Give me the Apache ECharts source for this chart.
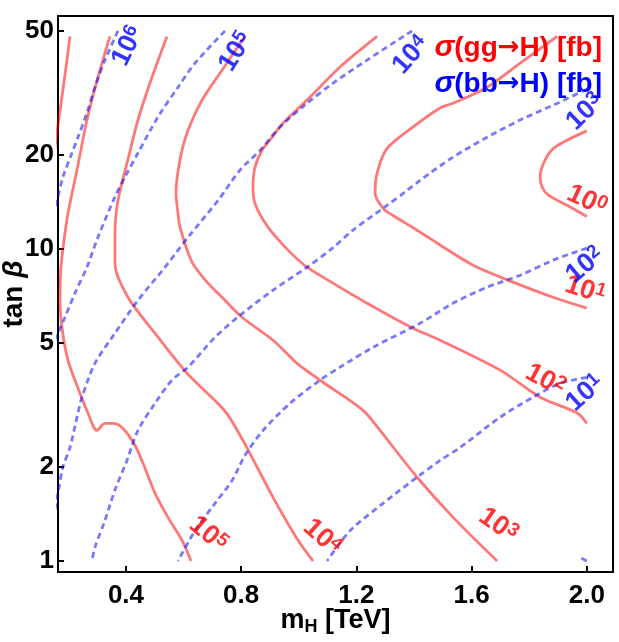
<!DOCTYPE html>
<html><head><meta charset="utf-8">
<script src="https://cdn.jsdelivr.net/npm/echarts@6/dist/echarts.min.js"></script>
<style>html,body{margin:0;padding:0;background:#fff}#c{width:619px;height:642px}</style>
</head><body><div id="c"></div>
<script>
// ---- axis ranges / ticks ----
const xRange = [0.164, 2.091];
const yRange = [0.922, 55.8];
const xTicks = [0.4, 0.8, 1.2, 1.6, 2.0];
const yTicks = [1, 2, 5, 10, 20, 50];

// ---- sigma(gg->H) contours [mH (TeV), tan beta] ----
const gg_1e6 = [[0.2055,48],[0.1951,40.3],[0.1777,30.7],[0.1638,24.9],[0.1499,20.0]];
const gg_1e5 = [[0.3444,48],[0.3027,35.5],[0.2645,25.9],[0.2298,17.9],[0.1985,13.0],[0.1881,11.2],[0.1742,8.74],[0.1708,6.85],[0.1777,5.61],[0.1985,4.40],[0.2402,3.45],[0.268,2.98],[0.2993,2.62],[0.3271,2.76],[0.3548,2.76],[0.3896,2.66],[0.4313,2.35],[0.4590,2.06],[0.5007,1.65],[0.5459,1.38],[0.5945,1.165],[0.6258,1.0]];
const gg_1e4 = [[0.5424,48],[0.4903,35.5],[0.4417,25.9],[0.4035,18.8],[0.3722,14.3],[0.3618,11.2],[0.3618,9.00],[0.4069,7.00],[0.5007,5.37],[0.6119,4.00],[0.7439,3.02],[0.7960,2.53],[0.8307,2.21],[0.9106,1.60],[0.9974,1.165],[1.0495,1.0]];
const gg_1e3 = [[0.8133,48],[0.7335,37.4],[0.6640,30.0],[0.6154,24.0],[0.5876,19.3],[0.5737,15.1],[0.5806,13.0],[0.5876,11.75],[0.6292,9.07],[0.6848,7.77],[0.7335,7.00],[0.8029,6.04],[0.9106,5.10],[0.9940,4.30],[1.0843,3.74],[1.2232,3.04],[1.2822,2.62],[1.4108,1.855],[1.5358,1.38],[1.6886,1.0]];
const gg_1e2 = [[1.2718,48],[1.1433,38.3],[1.0287,30.0],[0.9453,25.3],[0.9071,22.8],[0.8724,20.7],[0.8481,18.3],[0.8411,15.8],[0.8481,14.0],[0.8759,12.4],[0.9106,11.2],[0.9696,9.77],[1.0287,8.74],[1.1190,7.77],[1.2371,6.70],[1.3969,5.57],[1.4906,5.10],[1.6991,4.09],[1.8380,3.35],[1.9665,2.98],[2.0,2.76]];
const gg_1e1 = [[1.8970,48],[1.7685,39.4],[1.6539,33.0],[1.5358,29.3],[1.4906,28.3],[1.3969,24.6],[1.3066,21.0],[1.2718,17.5],[1.2649,15.1],[1.2927,13.5],[1.3274,12.8],[1.3969,11.7],[1.4906,10.3],[1.6053,8.87],[1.7442,7.83],[1.8832,7.00],[2.0,6.46]];
const gg_1e0 = [[2.0,23.9],[1.8901,21.2],[1.8554,19.3],[1.8380,17.0],[1.8449,15.8],[1.8658,14.9],[1.9318,13.8],[2.0,12.7]];

// ---- sigma(bb->H) contours ----
const bb_1e6 = [[0.3722,50],[0.3271,40.3],[0.2923,33.0],[0.2645,27.3],[0.2333,22.8],[0.2124,20.3],[0.1812,17.0],[0.1638,14.7],[0.143,12.4]];
const bb_1e5 = [[0.7438,50],[0.6397,39.4],[0.5806,33.0],[0.5111,26.5],[0.4417,20.3],[0.3965,17.0],[0.3618,14.7],[0.3027,10.9],[0.2645,8.74],[0.2229,7.22],[0.1881,6.04],[0.1638,5.37],[0.143,4.92]];
const bb_1e4 = [[1.3934,50],[1.2371,40.3],[1.1190,34.0],[1.0287,29.3],[0.9349,24.6],[0.8654,20.7],[0.7960,17.9],[0.7196,14.3],[0.6154,10.9],[0.5355,8.74],[0.4417,6.85],[0.3618,5.37],[0.2923,4.30],[0.2472,3.35],[0.2333,2.98],[0.2055,2.31],[0.1812,2.00],[0.1638,1.65],[0.150,1.40]];
const bb_1e3 = [[2.0,32.5],[1.8832,28.9],[1.7685,25.9],[1.6539,22.8],[1.5358,19.7],[1.4212,16.6],[1.3760,15.4],[1.3066,13.8],[1.1885,11.5],[1.1190,10.1],[1.0287,8.74],[0.9106,7.38],[0.7960,6.13],[0.7091,5.21],[0.6154,4.18],[0.5598,3.80],[0.5007,3.20],[0.4417,2.62],[0.4035,2.10],[0.3618,1.69],[0.3271,1.35],[0.2923,1.106],[0.2819,1.0]];
const bb_1e2 = [[2.0,10.06],[1.8832,9.21],[1.7685,8.24],[1.6539,7.54],[1.5358,6.70],[1.4212,5.78],[1.2579,4.84],[1.1433,4.18],[1.0738,3.80],[0.9696,3.20],[0.8759,2.62],[0.8133,2.18],[0.7682,1.81],[0.7091,1.53],[0.6397,1.25],[0.5806,1.0]];
const bb_1e1 = [[2.0,3.88],[1.9075,3.71],[1.8137,3.35],[1.6991,2.89],[1.5601,2.31],[1.4906,2.10],[1.4108,1.855],[1.2927,1.53],[1.1780,1.25],[1.0982,1.0]];
const bb_1e0 = [[2.0,1.0],[1.970,1.035]];

// ---- contour labels ----
const ggLabelExp = ['5','4','3','2','1','0'];
const ggLabelPos = [[0.6848,1.218],[1.0808,1.191],[1.6921,1.302],[1.8554,3.80],[1.9943,7.38],[2.0,14.3]];
const ggLabelRot = [-40,-42,-35,-28,-18,-25];
const bbLabelExp = ['6','5','4','3','2','1'];
const bbLabelPos = [[0.4069,44.7],[0.7821,42.8],[1.390,41.8],[1.9943,27.5],[1.9943,8.87],[1.9943,3.45]];
const bbLabelRot = [64,58,48,44,40,42];

const FONT = "'Liberation Sans', Arial, sans-serif";
const ARROWFONT = "'DejaVu Sans', sans-serif";
const RED_LINE = 'rgba(255,0,0,0.53)';
const BLUE_LINE = 'rgba(0,0,255,0.53)';
const lg = v => Math.log10(v);
const toXY = arr => arr.map(p => [p[0], lg(p[1])]);

const series = [];
[gg_1e6, gg_1e5, gg_1e4, gg_1e3, gg_1e2, gg_1e1, gg_1e0].forEach(a => series.push({
  type: 'line', data: toXY(a), symbol: 'none', smooth: 0.3, silent: true, z: 3,
  lineStyle: { color: RED_LINE, width: 2.8 }
}));
[bb_1e6, bb_1e5, bb_1e4, bb_1e3, bb_1e2, bb_1e1, bb_1e0].forEach(a => series.push({
  type: 'line', data: toXY(a), symbol: 'none', smooth: 0.3, silent: true, z: 4,
  lineStyle: { color: BLUE_LINE, width: 2.8, type: [6, 4] }
}));

function labelSeries(exps, pos, rots, color) {
  return {
    type: 'scatter', symbolSize: 1, silent: true, z: 10, clip: false,
    itemStyle: { color: 'transparent' },
    data: exps.map((e, i) => ({
      value: [pos[i][0], lg(pos[i][1])],
      label: {
        show: true, position: 'inside', rotate: rots[i],
        formatter: '{b|10}{s|' + e + '}',
        rich: {
          b: { fontSize: 27, fontWeight: 'bold', fontFamily: FONT, color: color, lineHeight: 28 },
          s: { fontSize: 19, fontWeight: 'bold', fontFamily: FONT, color: color, lineHeight: 19, verticalAlign: 'top' }
        }
      }
    }))
  };
}
series.push(labelSeries(ggLabelExp, ggLabelPos, ggLabelRot, '#ff0000'));
series.push(labelSeries(bbLabelExp, bbLabelPos, bbLabelRot, '#0000ff'));

function legendRich(color) {
  return {
    g: { fontSize: 30, fontStyle: 'italic', fontFamily: FONT, color: color },
    r: { fontSize: 28, fontWeight: 'bold', fontFamily: FONT, color: color },
    a: { fontSize: 26, fontWeight: 'bold', fontFamily: ARROWFONT, color: color }
  };
}

const chart = echarts.init(document.getElementById('c'), null, { renderer: 'canvas' });
chart.setOption({
  animation: false,
  backgroundColor: '#fff',
  grid: { left: 58, right: 6, top: 16, bottom: 70, containLabel: false, outerBoundsMode: 'none',
    show: true, borderColor: '#000', borderWidth: 2 },
  title: [
    { right: 12, top: 28, text: '{g|σ}{r|(gg}{a|→}{r|H) [fb]}', textStyle: { rich: legendRich('#ff0000') } },
    { right: 12, top: 64, text: '{g|σ}{r|(bb}{a|→}{r|H) [fb]}', textStyle: { rich: legendRich('#0000ff') } }
  ],
  xAxis: {
    type: 'value', min: xRange[0], max: xRange[1],
    name: '{m|m}{h|H}{m| [TeV]}', nameLocation: 'middle', nameGap: 34, nameMoveOverlap: false,
    nameTextStyle: { rich: {
      m: { fontSize: 27, fontWeight: 'bold', fontFamily: FONT, color: '#000', lineHeight: 30 },
      h: { fontSize: 18, fontWeight: 'bold', fontFamily: FONT, color: '#000', lineHeight: 18, verticalAlign: 'bottom' } } },
    axisLine: { onZero: false, lineStyle: { color: '#000', width: 2 } },
    axisTick: { inside: true, length: 6, customValues: xTicks, lineStyle: { color: '#000', width: 2 } },
    axisLabel: { customValues: xTicks, margin: 11, fontSize: 26, fontWeight: 'bold', fontFamily: FONT, color: '#000',
      formatter: v => v.toFixed(1) },
    splitLine: { show: false }
  },
  yAxis: {
    type: 'value', min: lg(yRange[0]), max: lg(yRange[1]),
    name: '{t|tan }{b|β}', nameLocation: 'middle', nameGap: 30, nameRotate: 90, nameMoveOverlap: false,
    nameTextStyle: { rich: {
      t: { fontSize: 28, fontWeight: 'bold', fontFamily: FONT, color: '#000' },
      b: { fontSize: 28, fontWeight: 'bold', fontStyle: 'italic', fontFamily: FONT, color: '#000' } } },
    axisLine: { onZero: false, lineStyle: { color: '#000', width: 2 } },
    axisTick: { inside: true, length: 6, customValues: yTicks.map(lg), lineStyle: { color: '#000', width: 2 } },
    axisLabel: { customValues: yTicks.map(lg), margin: 4, fontSize: 26, fontWeight: 'bold', fontFamily: FONT, color: '#000',
      formatter: v => String(Math.round(Math.pow(10, v))) },
    splitLine: { show: false }
  },
  series: series
});
</script></body></html>
